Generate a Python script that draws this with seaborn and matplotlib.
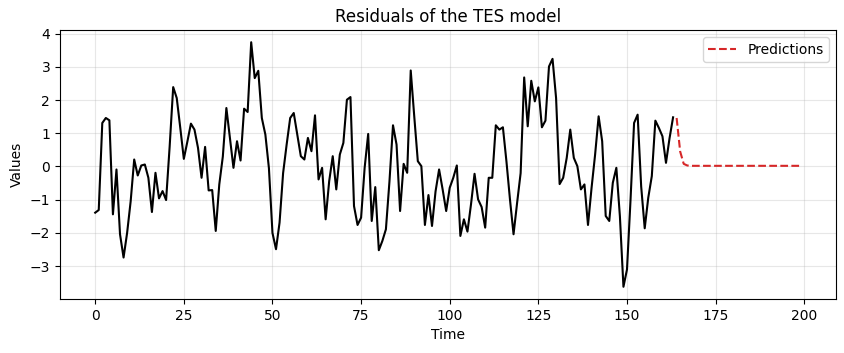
import numpy as np
import pandas as pd
import matplotlib
matplotlib.use("Agg")
import matplotlib.pyplot as plt
import seaborn as sns

residuals = [
    -1.39, -1.31, 1.31, 1.46, 1.39, -1.44, -0.09, -2.04, -2.74, -2.0,
    -1.05, 0.21, -0.27, 0.03, 0.06, -0.34, -1.37, -0.19, -0.96, -0.74,
    -1.01, 0.6, 2.39, 2.06, 1.16, 0.23, 0.75, 1.29, 1.11, 0.56,
    -0.34, 0.59, -0.72, -0.71, -1.94, -0.54, 0.3, 1.76, 0.86, -0.04,
    0.76, 0.18, 1.74, 1.64, 3.74, 2.66, 2.88, 1.46, 0.96, -0.05,
    -2.0, -2.49, -1.69, -0.2, 0.66, 1.46, 1.61, 0.96, 0.31, 0.21,
    0.86, 0.46, 1.54, -0.39, -0.04, -1.59, -0.44, 0.31, -0.69, 0.36,
    0.71, 2.01, 2.09, -1.19, -1.76, -1.54, -0.04, 0.98, -1.64, -0.62,
    -2.52, -2.24, -1.89, -0.45, 1.24, 0.66, -1.34, 0.08, -0.19, 2.89,
    1.5, 0.16, 0.01, -1.76, -0.86, -1.79, -0.75, -0.09, -0.69, -1.34,
    -0.64, -0.34, 0.03, -2.09, -1.59, -1.96, -1.14, -0.22, -0.99, -1.22,
    -1.84, -0.34, -0.34, 1.24, 1.11, 1.18, 0.15, -1.0, -2.04, -1.1,
    -0.2, 2.68, 1.21, 2.58, 1.96, 2.38, 1.18, 1.38, 3.01, 3.24,
    2.06, -0.53, -0.34, 0.26, 1.11, 0.26, 0.01, -0.69, -0.54, -1.76,
    -0.65, 0.35, 1.51, 0.76, -1.49, -1.64, -0.49, -0.04, -1.5, -3.62,
    -3.1, -1.0, 1.31, 1.56, -0.6, -1.86, -0.94, -0.29, 1.38, 1.16,
    0.91, 0.11, 0.85, 1.48,
]
resid_time = list(range(len(residuals)))

predictions = [
    1.46, 0.45, 0.08, 0.03, 0.02, 0.02, 0.02, 0.02, 0.02, 0.02,
    0.02, 0.02, 0.02, 0.02, 0.02, 0.02, 0.02, 0.02, 0.02, 0.02,
    0.02, 0.02, 0.02, 0.02, 0.02, 0.02, 0.02, 0.02, 0.02, 0.02,
    0.02, 0.02, 0.02, 0.02, 0.02, 0.02,
]
pred_time = list(range(len(residuals), len(residuals) + len(predictions)))

plt.rcParams["font.family"] = ["DejaVu Sans"]

fig, ax = plt.subplots(figsize=(8.44, 3.53), dpi=100)
fig.subplots_adjust(left=0.071, right=0.9905, top=0.915, bottom=0.153)

sns.lineplot(x=resid_time, y=residuals, color="black", linewidth=1.5, ax=ax)
sns.lineplot(x=pred_time, y=predictions, color="tab:red", linestyle="--",
             linewidth=1.5, label="Predictions", ax=ax)

ax.set_title("Residuals of the TES model", fontsize=12)
ax.set_xlabel("Time", fontsize=10)
ax.set_ylabel("Values", fontsize=10)
ax.grid(True, alpha=0.3, color="#b0b0b0", linewidth=0.8)
ax.legend(loc="upper right", fontsize=10)

fig.savefig("out.png", dpi=100)
